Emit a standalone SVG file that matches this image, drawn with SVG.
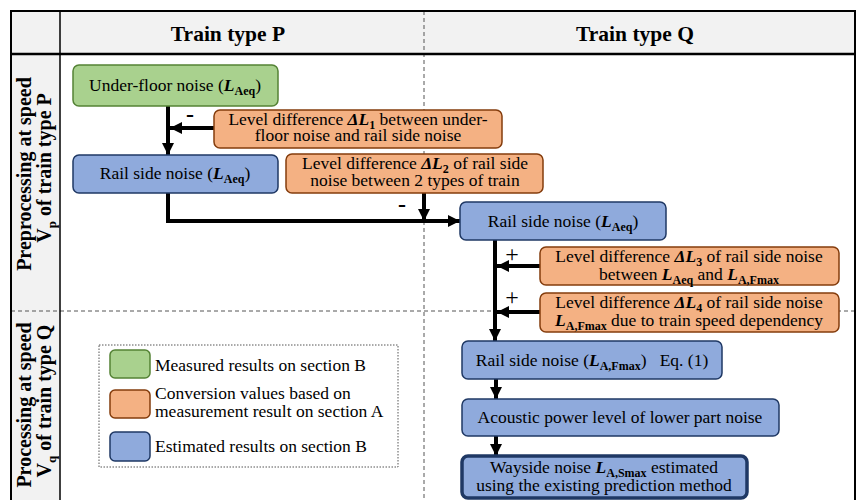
<svg xmlns="http://www.w3.org/2000/svg" width="859" height="500" viewBox="0 0 859 500" font-family="'Liberation Serif', Tinos, 'Times New Roman', 'DejaVu Serif', serif">
  <defs>
    <style>
      text { font-family: "Liberation Serif", Tinos, "Times New Roman", "DejaVu Serif", serif; fill: #000; }
      .t { font-size: 17.5px; text-anchor: middle; }
      .lt { font-size: 17.5px; }
      .h { font-size: 21.5px; font-weight: bold; text-anchor: middle; }
      .side { font-size: 20px; font-weight: bold; text-anchor: middle; }
      .v { font-style: italic; font-weight: bold; }
      .s { font-size: 12px; font-weight: bold; }
      .ss { font-size: 13px; font-weight: bold; }
      .minus { font-size: 24px; font-weight: bold; text-anchor: middle; }
      .plus { font-size: 24px; text-anchor: middle; }
      .green { fill: #a9d18e; stroke: #548235; stroke-width: 1.5; }
      .orange { fill: #f4b183; stroke: #843c0c; stroke-width: 1.5; }
      .blue { fill: #8faadc; stroke: #1f3864; stroke-width: 1.5; }
      .final { fill: #8faadc; stroke: #1f3864; stroke-width: 3.5; }
      .dash { stroke: #555; stroke-width: 1; stroke-dasharray: 4 3; fill: none; }
      .wire { stroke: #000; stroke-width: 4; fill: none; }
    </style>
    <marker id="head" viewBox="0 0 10 10" refX="10" refY="5" markerWidth="12" markerHeight="12" markerUnits="userSpaceOnUse" orient="auto">
      <path d="M0 0 L10 5 L0 10 Z" fill="#000"/>
    </marker>
  </defs>

  <!-- table frame -->
  <g id="frame">
    <rect x="11" y="11" width="844" height="43" fill="#f2f2f2"/>
    <rect x="11" y="54" width="49" height="446" fill="#f2f2f2"/>
    <line x1="424" y1="11" x2="424" y2="500" class="dash"/>
    <line x1="11" y1="311" x2="855" y2="311" class="dash"/>
    <path d="M11 500 V11 H855 V500" fill="none" stroke="#000" stroke-width="2"/>
    <line x1="11" y1="54" x2="855" y2="54" stroke="#000" stroke-width="2.5"/>
    <line x1="60" y1="11" x2="60" y2="500" stroke="#000" stroke-width="1.5"/>
    <text class="h" x="228" y="41">Train type P</text>
    <text class="h" x="635" y="41">Train type Q</text>
    <text class="side" transform="translate(31 174) rotate(-90)">Preprocessing at speed</text>
    <text class="side" transform="translate(51 168) rotate(-90)">V<tspan class="ss" dy="5">p</tspan><tspan dy="-5"> of train type P</tspan></text>
    <text class="side" transform="translate(31 405) rotate(-90)">Processing at speed</text>
    <text class="side" transform="translate(51 401) rotate(-90)">V<tspan class="ss" dy="5">q</tspan><tspan dy="-5"> of train type Q</tspan></text>
  </g>

  <!-- connectors -->
  <g id="connectors">
    <path class="wire" d="M168 106 V155" marker-end="url(#head)"/>
    <path class="wire" d="M214 128 H170" marker-end="url(#head)"/>
    <path class="wire" d="M168 193 V221 H460" marker-end="url(#head)"/>
    <path class="wire" d="M424 193 V221" marker-end="url(#head)"/>
    <path class="wire" d="M495 240 V341" marker-end="url(#head)"/>
    <path class="wire" d="M540 266 H497" marker-end="url(#head)"/>
    <path class="wire" d="M540 312 H497" marker-end="url(#head)"/>
    <path class="wire" d="M496 379 V399" marker-end="url(#head)"/>
    <path class="wire" d="M496 436 V456" marker-end="url(#head)"/>
    <text class="minus" x="190" y="122">-</text>
    <text class="minus" x="402" y="212">-</text>
    <text class="plus" x="512" y="262">+</text>
    <text class="plus" x="512" y="305">+</text>
  </g>

  <g id="under-floor-noise">
    <rect class="green" x="73" y="65" width="205" height="41" rx="6"/>
    <text class="t" x="175" y="91">Under-floor noise (<tspan class="v">L</tspan><tspan class="s" dy="4">Aeq</tspan><tspan dy="-4">)</tspan></text>
  </g>

  <g id="level-diff-1">
    <rect class="orange" x="214" y="110" width="288" height="38" rx="6"/>
    <text class="t" x="358" y="125">Level difference <tspan class="v">ΔL</tspan><tspan class="s" dy="4">1</tspan><tspan dy="-4"> between under-</tspan></text>
    <text class="t" x="358" y="141">floor noise and rail side noise</text>
  </g>

  <g id="rail-side-p">
    <rect class="blue" x="73" y="155" width="205" height="38" rx="6"/>
    <text class="t" x="175" y="179">Rail side noise (<tspan class="v">L</tspan><tspan class="s" dy="4">Aeq</tspan><tspan dy="-4">)</tspan></text>
  </g>

  <g id="level-diff-2">
    <rect class="orange" x="286" y="154" width="257" height="39" rx="6"/>
    <text class="t" x="415" y="169">Level difference <tspan class="v">ΔL</tspan><tspan class="s" dy="4">2</tspan><tspan dy="-4"> of rail side</tspan></text>
    <text class="t" x="415" y="186">noise between 2 types of train</text>
  </g>

  <g id="rail-side-q">
    <rect class="blue" x="460" y="202" width="206" height="38" rx="6"/>
    <text class="t" x="563" y="227">Rail side noise (<tspan class="v">L</tspan><tspan class="s" dy="4">Aeq</tspan><tspan dy="-4">)</tspan></text>
  </g>

  <g id="level-diff-3">
    <rect class="orange" x="540" y="247" width="299" height="38" rx="6"/>
    <text class="t" x="689" y="262">Level difference <tspan class="v">ΔL</tspan><tspan class="s" dy="4">3</tspan><tspan dy="-4"> of rail side noise</tspan></text>
    <text class="t" x="689" y="280">between <tspan class="v">L</tspan><tspan class="s" dy="4">Aeq</tspan><tspan dy="-4"> and </tspan><tspan class="v">L</tspan><tspan class="s" dy="4">A,Fmax</tspan></text>
  </g>

  <g id="level-diff-4">
    <rect class="orange" x="540" y="293" width="299" height="39" rx="6"/>
    <text class="t" x="689" y="308">Level difference <tspan class="v">ΔL</tspan><tspan class="s" dy="4">4</tspan><tspan dy="-4"> of rail side noise</tspan></text>
    <text class="t" x="689" y="326"><tspan class="v">L</tspan><tspan class="s" dy="4">A,Fmax</tspan><tspan dy="-4"> due to train speed dependency</tspan></text>
  </g>

  <g id="rail-side-fmax">
    <rect class="blue" x="462" y="341" width="260" height="38" rx="6"/>
    <text class="t" x="592" y="366" xml:space="preserve">Rail side noise (<tspan class="v">L</tspan><tspan class="s" dy="4">A,Fmax</tspan><tspan dy="-4">)   Eq. (1)</tspan></text>
  </g>

  <g id="acoustic-power">
    <rect class="blue" x="462" y="399" width="317" height="37" rx="6"/>
    <text class="t" x="620" y="423">Acoustic power level of lower part noise</text>
  </g>

  <g id="wayside-noise">
    <rect class="final" x="462" y="456" width="285" height="42" rx="6"/>
    <text class="t" x="604" y="473">Wayside noise <tspan class="v">L</tspan><tspan class="s" dy="4">A,Smax</tspan><tspan dy="-4"> estimated</tspan></text>
    <text class="t" x="604" y="491">using the existing prediction method</text>
  </g>

  <!-- legend -->
  <g id="legend">
    <rect x="99" y="345" width="299" height="122" fill="none" stroke="#555" stroke-width="1" stroke-dasharray="1.5 1.5"/>
    <rect class="green" x="110" y="350" width="40" height="28" rx="5"/>
    <rect class="orange" x="110" y="390" width="40" height="28" rx="5"/>
    <rect class="blue" x="110" y="432" width="40" height="29" rx="5"/>
    <text class="lt" x="155" y="371">Measured results on section B</text>
    <text class="lt" x="155" y="399">Conversion values based on</text>
    <text class="lt" x="155" y="417">measurement result on section A</text>
    <text class="lt" x="155" y="452">Estimated results on section B</text>
  </g>
</svg>
